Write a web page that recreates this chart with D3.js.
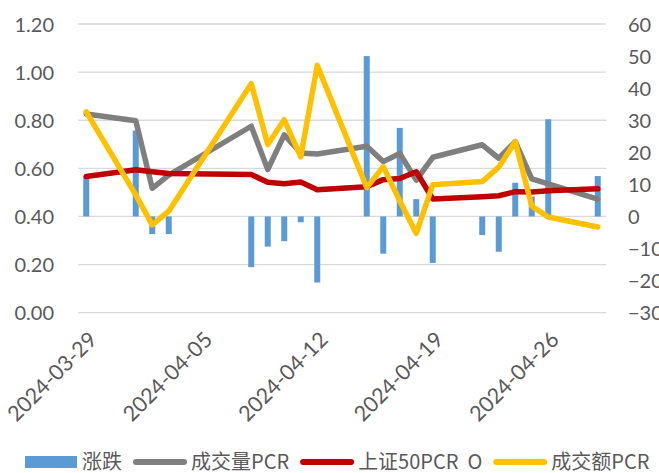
<!DOCTYPE html>
<html>
<head>
<meta charset="utf-8">
<script src="https://cdn.jsdelivr.net/npm/d3@7"></script>
<style>
    body { margin: 0; background: #fff; }
    svg { display: block; }
    .tick-label { font-family: Lato, "Noto Sans", sans-serif; font-size: 20px; fill: #595959; }
    .date-label { font-family: Lato, "Noto Sans", sans-serif; font-size: 21.5px; fill: #595959; }
    .legend-label { font-family: "Noto Sans CJK SC", sans-serif; font-size: 20px; fill: #595959; }
</style>
</head>
<body>
<div id="chart"></div>
<script>
// trading days
var dates = ['2024-03-29', '2024-04-01', '2024-04-02', '2024-04-03', '2024-04-08',
    '2024-04-09', '2024-04-10', '2024-04-11', '2024-04-12', '2024-04-15',
    '2024-04-16', '2024-04-17', '2024-04-18', '2024-04-19', '2024-04-22',
    '2024-04-23', '2024-04-24', '2024-04-25', '2024-04-26', '2024-04-29'];

// 涨跌 (right axis)
var change = [12.5, 26.8, -5.5, -5.5, -15.8, -9.4, -7.7, -1.8, -20.6, 50.0,
    -11.6, 27.6, 5.4, -14.5, -5.8, -11.0, 10.5, 6.2, 30.3, 12.6];

// left axis series
var volumePCR = [0.826, 0.798, 0.517, 0.572, 0.775, 0.595, 0.739, 0.664, 0.660, 0.692,
    0.628, 0.662, 0.551, 0.646, 0.698, 0.642, 0.711, 0.556, 0.535, 0.472];
var sz50PCR = [0.566, 0.594, 0.586, 0.579, 0.574, 0.542, 0.536, 0.543, 0.511, 0.524,
    0.553, 0.558, 0.586, 0.473, 0.482, 0.486, 0.503, 0.502, 0.507, 0.515];
var amountPCR = [0.835, 0.490, 0.365, 0.422, 0.952, 0.699, 0.802, 0.648, 1.028, 0.520,
    0.607, 0.465, 0.330, 0.532, 0.545, 0.605, 0.711, 0.443, 0.398, 0.356];

var xTicks = ['2024-03-29', '2024-04-05', '2024-04-12', '2024-04-19', '2024-04-26'];
var leftTicks = [0, 0.2, 0.4, 0.6, 0.8, 1.0, 1.2];
var rightTicks = [-30, -20, -10, 0, 10, 20, 30, 40, 50, 60];

var legendNames = ['涨跌', '成交量PCR', '上证50PCR  O', '成交额PCR'];
var colors = ['#5b9bd5', '#7f7f7f', '#c00000', '#ffc000'];

var width = 659, height = 473;
var plot = {left: 78, right: 606, top: 24, bottom: 312.7};

var parseDate = d3.utcParse('%Y-%m-%d');
var day = 24 * 3600 * 1000;

var x = d3.scaleUtc()
    .domain([new Date(+parseDate(dates[0]) - day / 2), new Date(+parseDate(dates[dates.length - 1]) + day / 2)])
    .range([plot.left, plot.right]);
var yLeft = d3.scaleLinear().domain([0, 1.2]).range([plot.bottom, plot.top]);
var yRight = d3.scaleLinear().domain([-30, 60]).range([plot.bottom, plot.top]);

var svg = d3.select('#chart').append('svg')
    .attr('width', width)
    .attr('height', height);

// gridlines
svg.append('g').selectAll('line')
    .data(leftTicks)
    .enter().append('line')
    .attr('x1', plot.left)
    .attr('x2', plot.right)
    .attr('y1', function(d) { return yLeft(d); })
    .attr('y2', function(d) { return yLeft(d); })
    .attr('stroke', '#d9d9d9')
    .attr('stroke-width', 1.3);

// left axis labels
var leftAxis = svg.append('g')
    .attr('transform', 'translate(' + 64 + ',0)')
    .call(d3.axisLeft(yLeft).tickValues(leftTicks).tickFormat(d3.format('.2f')).tickSize(0).tickPadding(10));
leftAxis.select('.domain').remove();
leftAxis.selectAll('text').attr('class', 'tick-label').attr('fill', null).attr('dy', '0.35em');

// right axis labels (cut at the window edge, as in the original)
var rightAxis = svg.append('g')
    .attr('transform', 'translate(' + 618 + ',0)')
    .call(d3.axisRight(yRight).tickValues(rightTicks).tickSize(0).tickPadding(10));
rightAxis.select('.domain').remove();
rightAxis.selectAll('text').attr('class', 'tick-label').attr('fill', null).attr('dy', '0.35em');

// x axis labels, rotated
svg.append('g').selectAll('text')
    .data(xTicks)
    .enter().append('text')
    .attr('class', 'date-label')
    .attr('text-anchor', 'end')
    .attr('transform', function(d) { return 'translate(' + (x(parseDate(d)) + 12) + ',341) rotate(-45)'; })
    .text(function(d) { return d; });

// bars
var barWidth = 6;
svg.append('g').selectAll('rect')
    .data(change)
    .enter().append('rect')
    .attr('x', function(d, i) { return x(parseDate(dates[i])) - barWidth / 2; })
    .attr('y', function(d) { return yRight(Math.max(0, d)); })
    .attr('width', barWidth)
    .attr('height', function(d) { return Math.abs(yRight(d) - yRight(0)); })
    .attr('fill', colors[0]);

// lines
var line = d3.line()
    .x(function(d, i) { return x(parseDate(dates[i])); })
    .y(function(d) { return yLeft(d); });

[volumePCR, sz50PCR, amountPCR].forEach(function(series, k) {
    svg.append('path')
        .datum(series)
        .attr('d', line)
        .attr('fill', 'none')
        .attr('stroke', colors[k + 1])
        .attr('stroke-width', 5.5)
        .attr('stroke-linejoin', 'round')
        .attr('stroke-linecap', 'round');
});

// legend
var legend = svg.append('g');
var lx = 25, ly = 462, keyW = 54;
legendNames.forEach(function(name, i) {
    if (i == 0) {
        legend.append('rect')
            .attr('x', lx).attr('y', ly - 6)
            .attr('width', 52).attr('height', 12)
            .attr('fill', colors[0]);
    } else {
        legend.append('line')
            .attr('x1', lx + 3).attr('x2', lx + keyW - 3)
            .attr('y1', ly).attr('y2', ly)
            .attr('stroke', colors[i])
            .attr('stroke-width', 6)
            .attr('stroke-linecap', 'round');
    }
    var t = legend.append('text')
        .attr('class', 'legend-label')
        .attr('x', lx + (i == 0 ? 57 : keyW + 4))
        .attr('y', ly)
        .attr('dy', '0.35em')
        .style('white-space', 'pre')
        .text(name);
    lx = +t.attr('x') + t.node().getComputedTextLength() + 11;
});
</script>
</body>
</html>
